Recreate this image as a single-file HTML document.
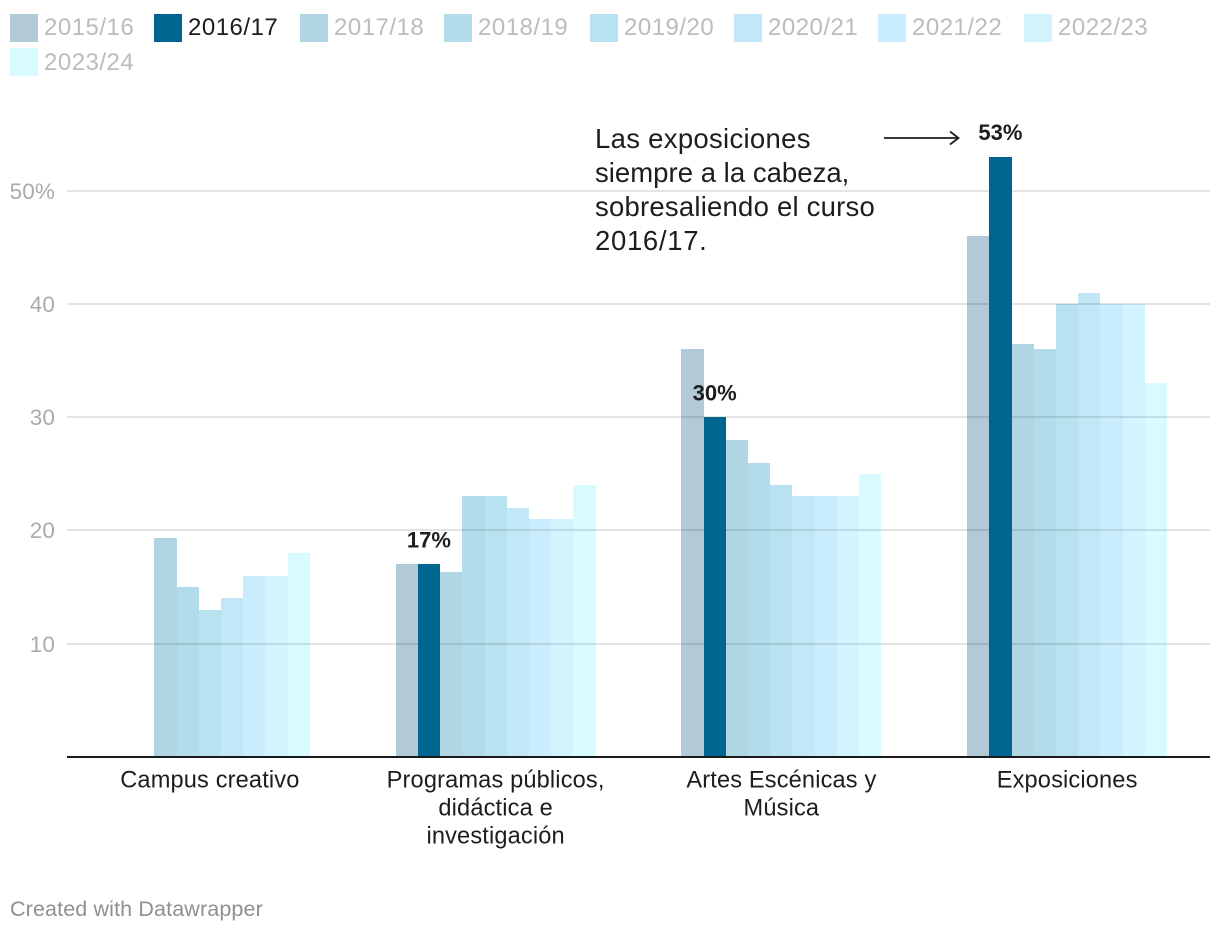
<!DOCTYPE html>
<html lang="es">
<head>
<meta charset="utf-8">
<title>Chart</title>
<style>
html,body{margin:0;padding:0;background:#fff;width:1220px;height:934px;overflow:hidden}
svg{display:block;font-family:"Liberation Sans",sans-serif}
</style>
</head>
<body>
<svg id="chart" width="1220" height="934" viewBox="0 0 1220 934" xmlns="http://www.w3.org/2000/svg">
  <g id="grid"></g>
  <g id="bars"></g>
  <g id="axis"></g>
  <g id="legend"></g>
  <g font-size="27.5" fill="#1d1d1d">
    <text x="595" y="148" letter-spacing="0.3">Las exposiciones</text>
    <text x="595" y="182" letter-spacing="0.03">siempre a la cabeza,</text>
    <text x="595" y="216" letter-spacing="0.22">sobresaliendo el curso</text>
    <text x="595" y="250" letter-spacing="0.68">2016/17.</text>
  </g>
  <g fill="none" stroke="#1d1d1d" stroke-width="1.8">
    <path d="M884 138H958"></path>
    <path d="M950 131.5L958.5 138L950 144.500"></path>
  </g>
  <text x="10" y="916" font-size="21.500" fill="#8f8f8f" letter-spacing="0.13">Created with Datawrapper</text>
</svg>
<script>
const seasons = ['2015/16','2016/17','2017/18','2018/19','2019/20','2020/21','2021/22','2022/23','2023/24'];
const categories = [
  ['Campus creativo'],
  ['Programas públicos,','didáctica e','investigación'],
  ['Artes Escénicas y','Música'],
  ['Exposiciones']
];
const values201516 = [null,17,36,46];
const values201617 = [null,17,30,53];
const values201718 = [19.3,16.3,28,36.45];
const values201819 = [15,23,26,36];
const values201920 = [13,23,24,40];
const values202021 = [14,22,23,41];
const values202122 = [16,21,23,40];
const values202223 = [16,21,23,40];
const values202324 = [18,24,25,33];
const seriesValues = [values201516,values201617,values201718,values201819,values201920,values202021,values202122,values202223,values202324];
const seriesColors = ['#b2cad7','#00668f','#b0d6e3','#b2dcea','#b8e2f0','#c2e8f7','#caedfd','#d2f4ff','#d8fbff'];
const highlightSeries = 1;
const yTicks = [10,20,30,40,50];
const tickSuffix = {50:'%'};

const NS = 'http://www.w3.org/2000/svg';
const plotLeft = 67, plotRight = 1210, baseY = 757, pxPerUnit = 11.3265, groupWidth = 200;
const yScale = v => baseY - v * pxPerUnit;
const bandWidth = (plotRight - plotLeft) / categories.length;
const bandCenter = i => plotLeft + bandWidth * (i + 0.5);
const barWidth = groupWidth / seasons.length;
const barX = (c, s) => bandCenter(c) - groupWidth / 2 + s * barWidth;
function make(tag, attrs, parent, text) {
  const el = document.createElementNS(NS, tag);
  for (const k in attrs) el.setAttribute(k, attrs[k]);
  if (text !== undefined) el.textContent = text;
  parent.appendChild(el);
  return el;
}
const gridG = document.getElementById('grid');
const barsG = document.getElementById('bars');
const axisG = document.getElementById('axis');
const legendG = document.getElementById('legend');

yTicks.forEach(t => {
  const y = Math.round(yScale(t));
  const line = make('rect', {x: plotLeft, y: y - 1, width: plotRight - plotLeft, height: 2, fill: '#e4e4e4'}, gridG);
  
  
  const label = make('text', {x: 55, y: y + 8, 'text-anchor': 'end', 'font-size': 22.500, fill: '#aaaaaa', 'letter-spacing': 0.1}, gridG, t + (tickSuffix[t] || ''));
  
  
});

seriesValues.forEach((vals, s) => {
  vals.forEach((v, c) => {
    if (v === null) return;
    const x0 = Math.round(barX(c, s)), x1 = Math.round(barX(c, s) + barWidth);
    const top = Math.round(yScale(v));
    const bar = make('rect', {x: x0, y: top, width: x1 - x0, height: baseY - top, fill: seriesColors[s]}, barsG);
    
    
    if (s !== highlightSeries) bar.style.mixBlendMode = 'multiply';
  });
});

seriesValues[highlightSeries].forEach((v, c) => {
  if (v === null) return;
  const cx = barX(c, highlightSeries) + barWidth / 2;
  const label = make('text', {x: cx, y: yScale(v) - 16.7, 'text-anchor': 'middle', 'font-size': 22, 'font-weight': 'bold', fill: '#1d1d1d'}, barsG, v + '%');
  
  
});

const baseline = make('rect', {x: plotLeft, y: baseY - 1, width: plotRight - plotLeft, height: 2, fill: '#1a1a1a'}, axisG);



categories.forEach((lines, c) => {
  lines.forEach((line, i) => {
    const label = make('text', {x: bandCenter(c), y: 787.5 + i * 28, 'text-anchor': 'middle', 'font-size': 23.6, fill: '#1d1d1d', 'letter-spacing': 0.15}, axisG, line);
    
    
  });
});

seasons.forEach((name, s) => {
  const perRow = 8;
  const col = s % perRow, row = Math.floor(s / perRow);
  const x = 10 + col * 145 - (col % 2) - (col === 6 ? 2 : 0), y = 14 + row * 34;
  const swatch = make('rect', {x: x, y: y, width: 28, height: 28, fill: seriesColors[s]}, legendG);
  
  
  const label = make('text', {x: x + 34, y: y + 21 + row, 'font-size': 24, fill: s === highlightSeries ? '#1d1d1d' : '#bcbcbc', 'letter-spacing': 0.5}, legendG, name);
  
  
});
</script>
</body>
</html>
